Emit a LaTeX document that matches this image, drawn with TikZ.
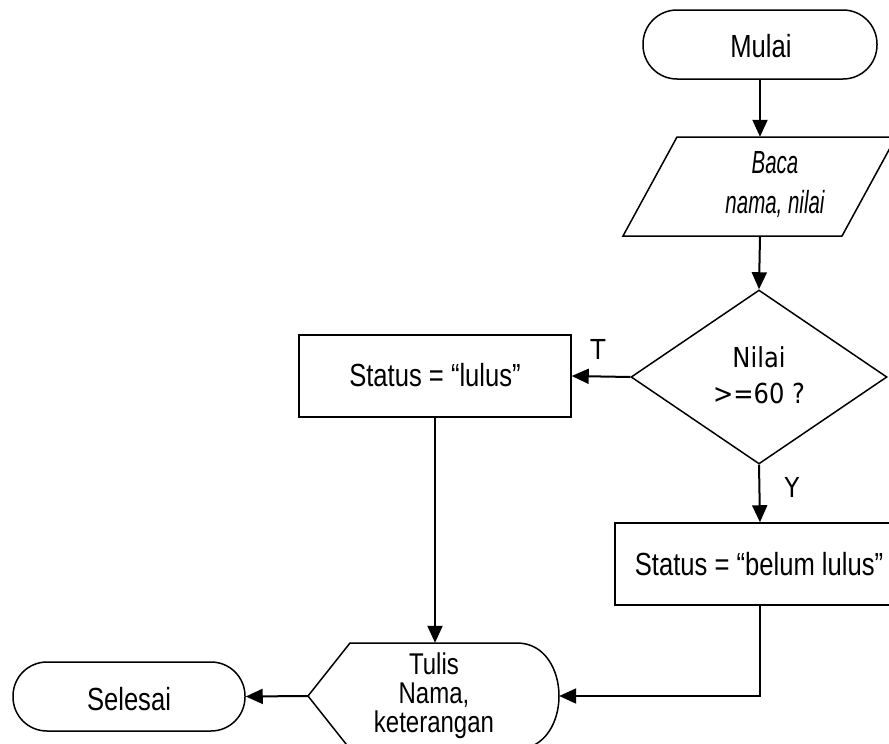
\documentclass[tikz,border=0pt]{standalone}
\usepackage{fontspec}
\setmainfont{Liberation Sans}[FakeStretch=0.8]
\newfontfamily\itfont{Liberation Sans}[FakeStretch=0.64]
\newfontfamily\dvfont{DejaVu Sans}[FakeStretch=0.88]
\usetikzlibrary{arrows.meta,shapes.geometric}
\tikzset{
  shapeline/.style={draw=black, line width=1.5pt},
  term/.style={shapeline, rounded corners=34pt, inner sep=0pt},
  procbox/.style={shapeline, rectangle, inner sep=0pt},
  anchorbox/.style={draw=none, rectangle, inner sep=0pt},
  conn/.style={draw=black, line width=2pt, -{Triangle[length=17pt,width=15pt]}},
  txt/.style={font=\fontsize{32}{36}\selectfont, inner sep=0pt, anchor=base},
  smalltxt/.style={font=\fontsize{30}{34}\selectfont, inner sep=0pt, anchor=base},
  ittxt/.style={font=\itfont\itshape\fontsize{32}{36}\selectfont, inner sep=0pt, anchor=base},
  dvtxt/.style={font=\dvfont\fontsize{27.5}{33}\selectfont, inner sep=0pt, anchor=base},
}
\begin{document}
\begin{tikzpicture}[x=1pt,y=-1pt]
\useasboundingbox (0,0) rectangle (889,744);
\clip (0,0) rectangle (889,744);
% start
\node[term, minimum width=234pt, minimum height=69pt] (mulai) at (760,44.5) {};
\node[txt] (mulaitxt) at (761,57) {Mulai};
% input
\draw[shapeline] (677,137) -- (896,137) -- (842,236) -- (623,236) -- cycle;
\node[anchorbox, minimum width=2pt, minimum height=99pt] (baca) at (760,186.5) {};
\node[ittxt] (baca1) at (775,173) {Baca};
\node[ittxt] (baca2) at (775,213) {nama, nilai};
% decision
\node[diamond, shapeline, minimum width=256pt, minimum height=174pt, inner sep=0pt] (cek) at (759,377) {};
\node[dvtxt] (cek1) at (759,367) {Nilai};
\node[dvtxt] (cek2) at (759,403) {>=60 ?};
\node[dvtxt, anchor=center] (tlabel) at (598,349) {T};
\node[dvtxt, anchor=center] (ylabel) at (792,487) {Y};
% process boxes
\node[procbox, minimum width=272pt, minimum height=82pt] (lulus) at (435,376) {};
\node[txt] (lulustxt) at (435,386) {Status = “lulus”};
\node[procbox, minimum width=290pt, minimum height=82pt] (belum) at (760,564) {};
\node[txt] (belumtxt) at (759,575) {Status = “belum lulus”};
% display
\draw[shapeline] (350,643) -- (517,643) .. controls (545,643) and (559,670) .. (559,696)
  .. controls (559,722) and (545,749) .. (517,749) -- (350,749) -- (308,696) -- cycle;
\node[anchorbox, minimum width=251pt, minimum height=106pt] (tulis) at (433.5,696) {};
\node[smalltxt] (tulis1) at (434,674) {Tulis};
\node[smalltxt] (tulis2) at (434,703) {Nama,};
\node[smalltxt] (tulis3) at (434,732) {keterangan};
% end
\node[term, minimum width=232pt, minimum height=69pt] (selesai) at (129,696.5) {};
\node[txt] (selesaitxt) at (129,710) {Selesai};
% connectors
\draw[conn] (mulai.south) -- (baca.north);
\draw[conn] (baca.south) -- (cek.north);
\draw[conn] (cek.west) -- (lulus.east);
\draw[conn] (cek.south) -- (belum.north);
\draw[conn] (lulus.south) -- (lulus.south |- tulis.north);
\draw[conn] (belum.south) |- (tulis.east);
\draw[conn] (tulis.west) -- (selesai.east);
\end{tikzpicture}
\end{document}
